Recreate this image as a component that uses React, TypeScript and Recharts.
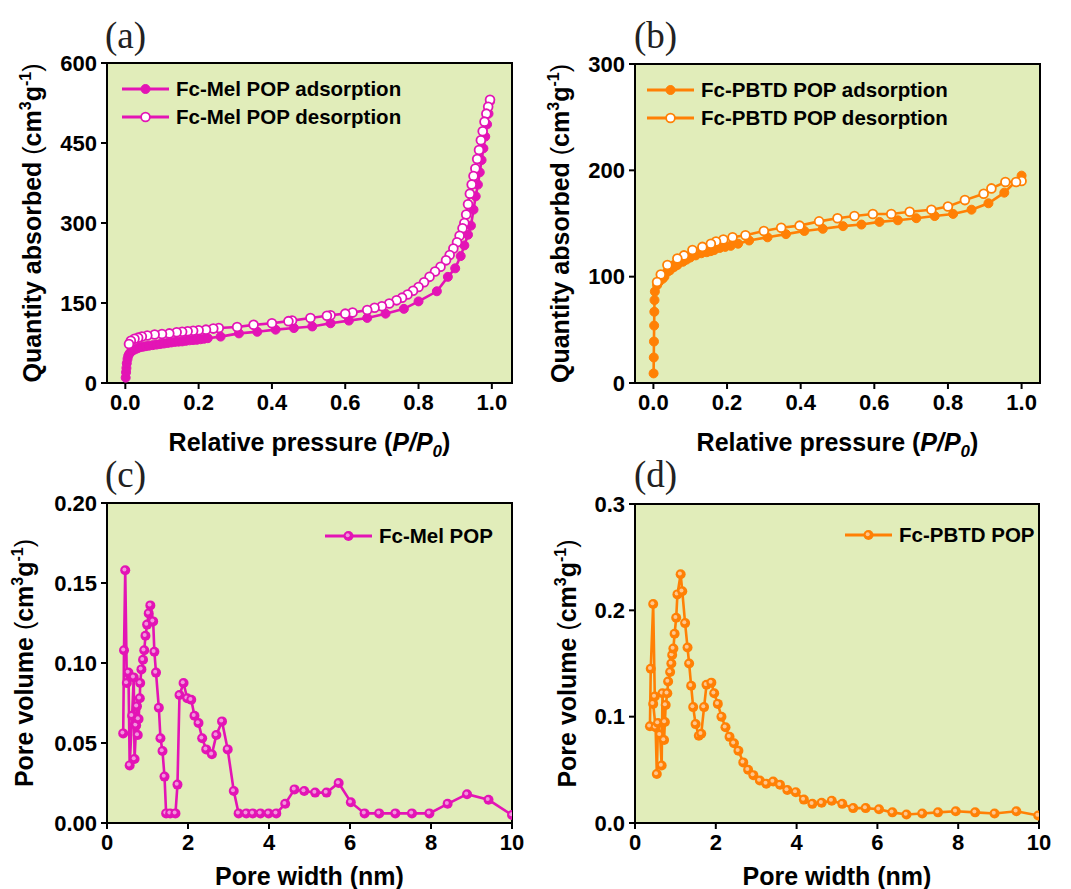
import React from "react";
import { LineChart, Line, XAxis, YAxis, ReferenceArea, Legend, Label } from "recharts";

const MAGENTA = "#E314B5";
const ORANGE = "#FF8005";
const PLOT_BG = "#E1EDBA";
const SANS = "'Liberation Sans', Arial, sans-serif";
const SERIF = "'Liberation Serif', 'Times New Roman', serif";

// (a) Fc-Mel POP isotherm
const melAdsP = [0.001, 0.002, 0.003, 0.004, 0.006, 0.008, 0.011, 0.015, 0.02, 0.026, 0.033, 0.04, 0.048, 0.056, 0.065, 0.075, 0.085, 0.095, 0.105, 0.115, 0.125, 0.135, 0.145, 0.155, 0.165, 0.175, 0.185, 0.195, 0.205, 0.215, 0.225, 0.26, 0.31, 0.36, 0.41, 0.46, 0.51, 0.56, 0.61, 0.66, 0.71, 0.76, 0.8, 0.85, 0.88, 0.9, 0.915, 0.925, 0.935, 0.943, 0.95, 0.956, 0.962, 0.967, 0.972, 0.977, 0.982, 0.987, 0.991, 0.995];
const melAdsQ = [10, 20, 28, 37, 45, 51, 55, 58, 61, 63, 65, 67, 68, 69, 70, 71, 72, 73, 74, 75, 76, 77, 77.5, 78, 79, 80, 80.5, 81, 82, 83, 84, 87, 93, 96, 100, 103, 106, 112, 117, 122, 130, 139, 153, 172, 199, 215, 238, 258, 278, 295, 325, 350, 372, 395, 418, 440, 462, 485, 505, 528];
const melDesP = [0.995, 0.99, 0.985, 0.98, 0.975, 0.97, 0.965, 0.96, 0.955, 0.95, 0.945, 0.94, 0.935, 0.93, 0.925, 0.92, 0.912, 0.905, 0.895, 0.885, 0.875, 0.86, 0.845, 0.83, 0.815, 0.8, 0.785, 0.77, 0.755, 0.74, 0.72, 0.7, 0.68, 0.66, 0.62, 0.6, 0.56, 0.55, 0.505, 0.455, 0.445, 0.4, 0.35, 0.305, 0.255, 0.24, 0.22, 0.2, 0.185, 0.17, 0.155, 0.14, 0.12, 0.1, 0.08, 0.06, 0.045, 0.035, 0.025, 0.015, 0.01];
const melDesQ = [531, 518, 505, 490, 472, 455, 437, 420, 402, 388, 372, 355, 335, 316, 300, 290, 276, 264, 252, 240, 230, 218, 209, 199, 189, 180, 173, 166, 160, 155, 149, 144, 141, 137, 132, 130, 127, 126, 122, 117, 116, 112, 109, 105, 103, 102, 100, 99, 98, 97, 96, 95, 93, 92, 91, 89, 87, 85, 83, 79, 73];

// (b) Fc-PBTD POP isotherm
const pbtdAdsP = [0.0005, 0.001, 0.0015, 0.002, 0.0025, 0.003, 0.004, 0.01, 0.015, 0.025, 0.03, 0.04, 0.045, 0.056, 0.065, 0.08, 0.09, 0.1, 0.115, 0.13, 0.145, 0.156, 0.165, 0.18, 0.195, 0.21, 0.23, 0.26, 0.31, 0.36, 0.41, 0.46, 0.515, 0.565, 0.614, 0.664, 0.714, 0.764, 0.814, 0.864, 0.91, 0.953, 1.0];
const pbtdAdsQ = [9, 24, 39, 54, 67, 78, 86, 92, 95, 98, 100, 105, 106, 109, 111, 114, 116, 118, 120, 122, 123, 124, 125, 127, 128, 129, 131, 134, 137, 140, 143, 145, 147.5, 149, 151.5, 153, 155, 157, 159, 163, 169, 179, 195];
const pbtdDesP = [1.0, 0.985, 0.956, 0.918, 0.897, 0.846, 0.8, 0.755, 0.696, 0.646, 0.596, 0.546, 0.5, 0.45, 0.397, 0.347, 0.3, 0.25, 0.215, 0.19, 0.17, 0.156, 0.133, 0.106, 0.083, 0.065, 0.038, 0.02, 0.01];
const pbtdDesQ = [190, 189, 189, 183, 178, 172, 166, 163, 161, 159, 159, 157, 155, 152, 148, 146, 143, 139, 137, 135, 133, 131, 128, 125, 120, 117, 111, 102, 95];

// (c) Fc-Mel POP pore size distribution
const melPoreW = [0.4, 0.42, 0.45, 0.49, 0.53, 0.56, 0.62, 0.66, 0.68, 0.72, 0.74, 0.76, 0.78, 0.81, 0.82, 0.85, 0.89, 0.92, 0.95, 0.99, 1.03, 1.07, 1.14, 1.17, 1.21, 1.28, 1.32, 1.37, 1.42, 1.46, 1.56, 1.69, 1.74, 1.79, 1.89, 1.98, 2.08, 2.16, 2.26, 2.35, 2.45, 2.59, 2.7, 2.84, 2.98, 3.13, 3.25, 3.44, 3.6, 3.79, 3.99, 4.18, 4.4, 4.63, 4.87, 5.14, 5.42, 5.72, 6.02, 6.36, 6.72, 7.12, 7.53, 7.96, 8.41, 8.89, 9.42, 10.0];
const melPoreV = [0.056, 0.108, 0.158, 0.0875, 0.094, 0.036, 0.067, 0.091, 0.04, 0.061, 0.073, 0.055, 0.065, 0.078, 0.0875, 0.096, 0.102, 0.108, 0.117, 0.124, 0.131, 0.136, 0.126, 0.107, 0.094, 0.072, 0.053, 0.045, 0.029, 0.006, 0.006, 0.006, 0.024, 0.08, 0.0875, 0.078, 0.077, 0.067, 0.0625, 0.053, 0.046, 0.043, 0.055, 0.0635, 0.046, 0.02, 0.006, 0.006, 0.006, 0.006, 0.006, 0.006, 0.012, 0.021, 0.02, 0.019, 0.019, 0.025, 0.013, 0.006, 0.006, 0.006, 0.006, 0.006, 0.012, 0.018, 0.0145, 0.005];

// (d) Fc-PBTD POP pore size distribution
const pbtdPoreW = [0.37, 0.39, 0.45, 0.49, 0.45, 0.51, 0.54, 0.57, 0.62, 0.66, 0.68, 0.72, 0.74, 0.76, 0.8, 0.82, 0.87, 0.9, 0.92, 0.95, 0.98, 1.02, 1.05, 1.13, 1.17, 1.24, 1.3, 1.34, 1.39, 1.44, 1.5, 1.58, 1.64, 1.71, 1.77, 1.89, 1.96, 2.05, 2.14, 2.24, 2.34, 2.45, 2.56, 2.68, 2.8, 2.93, 3.09, 3.25, 3.42, 3.59, 3.77, 3.98, 4.18, 4.39, 4.62, 4.87, 5.13, 5.4, 5.71, 6.04, 6.37, 6.72, 7.11, 7.5, 7.94, 8.42, 8.9, 9.44, 9.98];
const pbtdPoreV = [0.091, 0.145, 0.206, 0.119, 0.112, 0.09, 0.046, 0.094, 0.083, 0.054, 0.122, 0.078, 0.095, 0.111, 0.122, 0.133, 0.142, 0.15, 0.158, 0.164, 0.178, 0.193, 0.215, 0.234, 0.218, 0.188, 0.165, 0.15, 0.129, 0.109, 0.093, 0.082, 0.084, 0.109, 0.13, 0.132, 0.122, 0.112, 0.1, 0.09, 0.081, 0.075, 0.068, 0.057, 0.05, 0.045, 0.04, 0.037, 0.039, 0.036, 0.031, 0.029, 0.022, 0.018, 0.019, 0.021, 0.018, 0.014, 0.014, 0.013, 0.01, 0.008, 0.009, 0.01, 0.011, 0.01, 0.009, 0.011, 0.007];

const pressureTicks = [0, 0.2, 0.4, 0.6, 0.8, 1.0];
const melIsoTicks = [0, 150, 300, 450, 600];
const pbtdIsoTicks = [0, 100, 200, 300];
const widthTicks = [0, 2, 4, 6, 8, 10];
const melPoreTicks = [0, 0.05, 0.1, 0.15, 0.2];
const pbtdPoreTicks = [0, 0.1, 0.2, 0.3];

type MarkerKind = "filled" | "open" | "ball";
type SeriesDef = { name: string; xs: number[]; ys: number[]; color: string; marker: MarkerKind };

const zip = (xs: number[], ys: number[]) => xs.map((x, i) => ({ x, y: ys[i] }));

function marker(kind: MarkerKind, color: string, cx: number, cy: number, key?: React.Key) {
  if (kind === "open")
    return <circle key={key} cx={cx} cy={cy} r={4.4} fill="#fff" stroke={color} strokeWidth={1.8} />;
  if (kind === "ball")
    return (
      <g key={key}>
        <circle cx={cx} cy={cy} r={5} fill={color} />
        <circle cx={cx - 0.8} cy={cy - 0.8} r={2} fill="#fff" opacity={0.55} />
      </g>
    );
  return <circle key={key} cx={cx} cy={cy} r={4.5} fill={color} stroke={color} strokeWidth={1} />;
}

const SupText = ({ children }: { children: string }) => (
  <tspan dy={-10} fontSize={16}>{children}</tspan>
);

function YTitle({ text, cx, cy }: { text: string; cx: number; cy: number }) {
  return (
    <text
      x={cx}
      y={cy}
      transform={`rotate(-90 ${cx} ${cy})`}
      textAnchor="middle"
      fontFamily={SANS}
      fontSize={25}
      fontWeight={700}
      fill="#000"
    >
      <tspan>{text} </tspan>
      <tspan fontWeight={400}>(</tspan>
      <tspan>cm</tspan>
      <SupText>3</SupText>
      <tspan dy={10}>g</tspan>
      <SupText>-1</SupText>
      <tspan dy={10} fontWeight={400}>)</tspan>
    </text>
  );
}

function XTitle({ kind, cx, y }: { kind: "pressure" | "width"; cx: number; y: number }) {
  return (
    <text x={cx} y={y} textAnchor="middle" fontFamily={SANS} fontSize={25} fontWeight={700} fill="#000">
      {kind === "width" ? (
        <tspan>Pore width (nm)</tspan>
      ) : (
        <>
          <tspan>Relative pressure (</tspan>
          <tspan fontStyle="italic">P/P</tspan>
          <tspan fontStyle="italic" dy={6} fontSize={17}>0</tspan>
          <tspan dy={-6}>)</tspan>
        </>
      )}
    </text>
  );
}

type PanelProps = {
  left: number;
  top: number;
  width: number;
  height: number;
  plot: { l: number; t: number; r: number; b: number };
  xDomain: [number, number];
  yDomain: [number, number];
  xTicks: number[];
  yTicks: number[];
  xFmt: (v: number) => string;
  yFmt: (v: number) => string;
  series: SeriesDef[];
  yTitle: string;
  yTitleX: number;
  xKind: "pressure" | "width";
  xTitleDy: number;
  tag: string;
  tagPos: { left: number; top: number };
  legendPos: { left: number; top: number };
};

function Panel(p: PanelProps) {
  const tickStyle = { fill: "#000", fontSize: 22, fontWeight: 700, fontFamily: SANS };
  const axisLine = { stroke: "#000", strokeWidth: 2 };
  return (
    <div style={{ position: "absolute", left: p.left, top: p.top, width: p.width, height: p.height }}>
      <LineChart
        width={p.width}
        height={p.height}
        margin={{ top: p.plot.t, right: p.width - p.plot.r, bottom: 0, left: 0 }}
      >
        <ReferenceArea
          x1={p.xDomain[0]}
          x2={p.xDomain[1]}
          y1={p.yDomain[0]}
          y2={p.yDomain[1]}
          fill={PLOT_BG}
          fillOpacity={1}
          stroke="#000"
          strokeWidth={2}
        />
        <XAxis
          type="number"
          dataKey="x"
          domain={p.xDomain}
          allowDataOverflow
          ticks={p.xTicks}
          tickFormatter={p.xFmt}
          height={p.height - p.plot.b}
          tick={tickStyle}
          tickLine={axisLine}
          axisLine={axisLine}
          tickSize={6}
          tickMargin={5}
          interval={0}
        >
          <Label
            content={({ viewBox }: any) => (
              <XTitle kind={p.xKind} cx={viewBox.x + viewBox.width / 2} y={viewBox.y + p.xTitleDy} />
            )}
          />
        </XAxis>
        <YAxis
          type="number"
          domain={p.yDomain}
          allowDataOverflow
          ticks={p.yTicks}
          tickFormatter={p.yFmt}
          width={p.plot.l}
          tick={tickStyle}
          tickLine={axisLine}
          axisLine={axisLine}
          tickSize={6}
          tickMargin={4}
          interval={0}
        >
          <Label
            content={({ viewBox }: any) => (
              <YTitle text={p.yTitle} cx={viewBox.x + p.yTitleX} cy={viewBox.y + viewBox.height / 2} />
            )}
          />
        </YAxis>
        {p.series.map((s) => (
          <Line
            key={s.name}
            name={s.name}
            data={zip(s.xs, s.ys)}
            dataKey="y"
            type="linear"
            stroke={s.color}
            strokeWidth={2.6}
            dot={(d: any) => marker(s.marker, s.color, d.cx, d.cy, d.index)}
            activeDot={false}
            isAnimationActive={false}
          />
        ))}
        <Legend
          layout="vertical"
          align="center"
          verticalAlign="middle"
          wrapperStyle={{ left: p.legendPos.left, top: p.legendPos.top, width: "auto", height: "auto" }}
          content={() => (
            <div>
              {p.series.map((s) => (
                <div key={s.name} style={{ display: "flex", alignItems: "center", height: 28 }}>
                  <svg width={48} height={28}>
                    <line x1={0} x2={47} y1={14} y2={14} stroke={s.color} strokeWidth={3} />
                    {marker(s.marker, s.color, 23.5, 14)}
                  </svg>
                  <span
                    style={{
                      marginLeft: 6,
                      fontFamily: SANS,
                      fontWeight: 700,
                      fontSize: 20.5,
                      color: "#000",
                      whiteSpace: "nowrap",
                    }}
                  >
                    {s.name}
                  </span>
                </div>
              ))}
            </div>
          )}
        />
      </LineChart>
      <div
        style={{
          position: "absolute",
          left: p.tagPos.left,
          top: p.tagPos.top,
          fontFamily: SERIF,
          fontSize: 37,
          lineHeight: "36px",
          color: "#222",
        }}
      >
        {p.tag}
      </div>
    </div>
  );
}

const f1 = (v: number) => v.toFixed(1);
const f2 = (v: number) => v.toFixed(2);
const f0 = (v: number) => String(v);

export default function App() {
  return (
    <div style={{ position: "absolute", left: 0, top: 0, width: 1071, height: 889, background: "#fff", overflow: "hidden" }}>
      <Panel
        left={0}
        top={0}
        width={535}
        height={460}
        plot={{ l: 107, t: 63, r: 512, b: 383 }}
        xDomain={[-0.05, 1.055]}
        yDomain={[0, 600]}
        xTicks={pressureTicks}
        yTicks={melIsoTicks}
        xFmt={f1}
        yFmt={f0}
        series={[
          { name: "Fc-Mel POP adsorption", xs: melAdsP, ys: melAdsQ, color: MAGENTA, marker: "filled" },
          { name: "Fc-Mel POP desorption", xs: melDesP, ys: melDesQ, color: MAGENTA, marker: "open" },
        ]}
        yTitle="Quantity absorbed"
        yTitleX={41}
        xKind="pressure"
        xTitleDy={68}
        tag="(a)"
        tagPos={{ left: 105, top: 18 }}
        legendPos={{ left: 122, top: 75 }}
      />
      <Panel
        left={531}
        top={0}
        width={540}
        height={460}
        plot={{ l: 104, t: 64, r: 509, b: 383 }}
        xDomain={[-0.05, 1.05]}
        yDomain={[0, 300]}
        xTicks={pressureTicks}
        yTicks={pbtdIsoTicks}
        xFmt={f1}
        yFmt={f0}
        series={[
          { name: "Fc-PBTD POP adsorption", xs: pbtdAdsP, ys: pbtdAdsQ, color: ORANGE, marker: "filled" },
          { name: "Fc-PBTD POP desorption", xs: pbtdDesP, ys: pbtdDesQ, color: ORANGE, marker: "open" },
        ]}
        yTitle="Quantity absorbed"
        yTitleX={38}
        xKind="pressure"
        xTitleDy={68}
        tag="(b)"
        tagPos={{ left: 103, top: 18 }}
        legendPos={{ left: 116, top: 76 }}
      />
      <Panel
        left={0}
        top={430}
        width={535}
        height={459}
        plot={{ l: 107, t: 73, r: 512, b: 393 }}
        xDomain={[0, 10]}
        yDomain={[0, 0.2]}
        xTicks={widthTicks}
        yTicks={melPoreTicks}
        xFmt={f0}
        yFmt={f2}
        series={[{ name: "Fc-Mel POP", xs: melPoreW, ys: melPoreV, color: MAGENTA, marker: "ball" }]}
        yTitle="Pore volume"
        yTitleX={33}
        xKind="width"
        xTitleDy={62}
        tag="(c)"
        tagPos={{ left: 105, top: 27 }}
        legendPos={{ left: 325, top: 92 }}
      />
      <Panel
        left={531}
        top={430}
        width={540}
        height={459}
        plot={{ l: 104, t: 74, r: 508, b: 393 }}
        xDomain={[0, 10]}
        yDomain={[0, 0.3]}
        xTicks={widthTicks}
        yTicks={pbtdPoreTicks}
        xFmt={f0}
        yFmt={f1}
        series={[{ name: "Fc-PBTD POP", xs: pbtdPoreW, ys: pbtdPoreV, color: ORANGE, marker: "ball" }]}
        yTitle="Pore volume"
        yTitleX={45}
        xKind="width"
        xTitleDy={62}
        tag="(d)"
        tagPos={{ left: 103, top: 27 }}
        legendPos={{ left: 314, top: 91 }}
      />
    </div>
  );
}
